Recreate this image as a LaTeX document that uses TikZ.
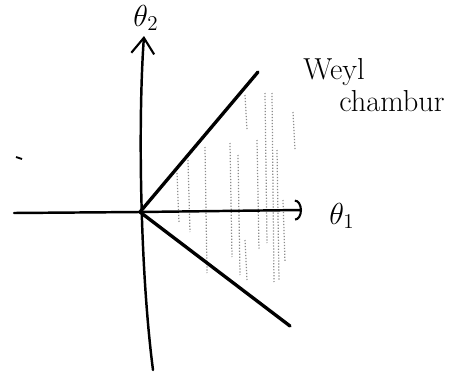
\documentclass[tikz,border=0pt]{standalone}
\usepackage{tikz}
\usetikzlibrary{arrows.meta, positioning}
\tikzset{
  axisline/.style={line width=1.4pt, color=black, line cap=round},
  yarrow/.style={-{Straight Barb[length=9pt, width=13pt, line width=1.2pt]}},
  xarrow/.style={-{Arc Barb[length=4pt, width=12pt, line width=1.2pt]}},
  wall/.style={line width=1.9pt, color=black, line cap=round},
  hatch/.style={color=black!45, densely dotted, line width=0.7pt},
  axislabel/.style={font=\LARGE, inner sep=1pt},
  chamberlabel/.style={font=\LARGE, inner sep=1pt}
}
\begin{document}
\begin{tikzpicture}[x=0.02cm, y=-0.02cm]
  \useasboundingbox (0,0) rectangle (451,379);

  % Points
  \coordinate (o) at (140,212);
  \coordinate (xstart) at (14,213);
  \coordinate (xend) at (302,210);
  \coordinate (ybot) at (153,370);
  \coordinate (ytop) at (144,36);
  \coordinate (wup) at (258,72);
  \coordinate (wdown) at (290,326);

  % Hatching of the chamber
  \foreach \x/\a/\b in {177/173/223, 188/160/232, 205/147/273, 230/143/257,
                        238/155/275, 245/95/130, 245/240/280, 257/140/250,
                        265/93/243, 272/93/282, 277/150/280, 283/200/262,
                        293/112/150}
    \draw[hatch] (\x,\a) -- (\x+2,\b);

  % Walls
  \draw[wall] (o) -- (wup);
  \draw[wall] (o) -- (wdown);

  % Axes
  \draw[axisline, xarrow] (xstart) -- (o) -- (xend);
  \draw[axisline, yarrow] (ybot) .. controls (140,270) and (138,120) .. (ytop);

  % Labels
  \node[axislabel] (t2) at (146,18) {$\theta_2$};
  \node[axislabel] (t1) at (342,216) {$\theta_1$};
  \node[chamberlabel] (weyl) at (334,72) {Weyl};
  \node[chamberlabel] (chamber) at (392,101) {chambur};

  % stray mark
  \draw[line width=1pt] (16,157) -- (22,159);
\end{tikzpicture}
\end{document}
